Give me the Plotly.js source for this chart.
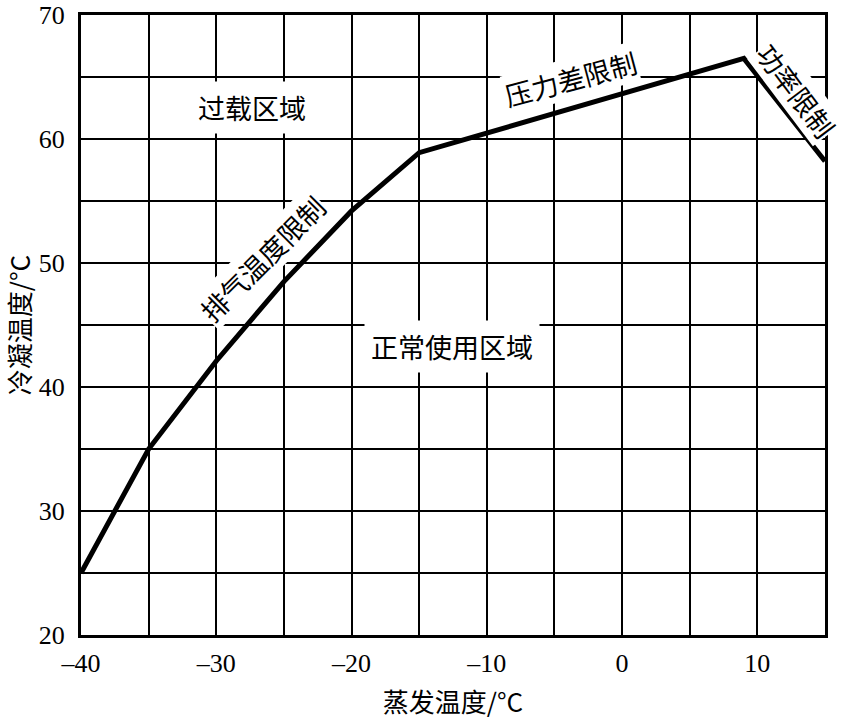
<!DOCTYPE html>
<html>
<head>
<meta charset="utf-8">
<script src="https://cdn.plot.ly/plotly-3.0.1.min.js"></script>
<style>
html,body{margin:0;padding:0;background:#fff;}
#chart{width:845px;height:721px;}
</style>
</head>
<body>
<div id="chart"></div>
<script>
// Boundary of the operating envelope (evaporating temp vs condensing temp)
const evapTemp = [-40, -35, -30, -25, -20, -15, 9, 15];
const condTemp = [25, 35, 42.1, 48.5, 54.2, 58.9, 66.5, 58.2];

const xTicks = [-40, -30, -20, -10, 0, 10];
const yTicks = [20, 30, 40, 50, 60, 70];

const labelText = ['过载区域', '正常使用区域', '排气温度限制', '压力差限制', '功率限制'];
const labelX = [-27.36, -12.54, -26.6, -3.8, 12.85];
const labelY = [62.58, 43.3, 50.4, 64.9, 63.9];
const labelAngle = [0, 0, -45, -15, 53];
const labelPad = [6, 6, 0, 0, 0];

const cjk = 'Noto Sans CJK SC, sans-serif';
const serif = 'Liberation Serif, Noto Sans CJK SC, serif';

const annotations = labelText.map((t, i) => ({
  x: labelX[i], y: labelY[i], xref: 'x', yref: 'y',
  text: t, showarrow: false, textangle: labelAngle[i],
  xanchor: 'center', yanchor: 'middle',
  bgcolor: '#ffffff', borderpad: labelPad[i],
  font: {family: cjk, size: 27, color: '#000'}
}));

const trace = {
  x: evapTemp, y: condTemp, type: 'scatter', mode: 'lines',
  line: {color: '#000', width: 5}, hoverinfo: 'skip', showlegend: false
};

const layout = {
  width: 845, height: 721,
  margin: {l: 81, r: 20, t: 15, b: 86},
  paper_bgcolor: '#fff', plot_bgcolor: '#fff',
  showlegend: false,
  xaxis: {
    range: [-40, 15], tickvals: xTicks, ticktext: xTicks.map(v => v < 0 ? '–' + Math.abs(v) : String(v)),
    showgrid: true, gridcolor: '#000', gridwidth: 2, zeroline: false,
    showline: true, linecolor: '#000', linewidth: 3, mirror: true, ticks: '',
    ticklabelstandoff: 3, ticklabeloverflow: 'allow',
    tickfont: {family: serif, size: 26, color: '#000'},
    title: {text: '蒸发温度/°C', font: {family: cjk, size: 26, color: '#000'}, standoff: 17}
  },
  yaxis: {
    range: [20, 70], tickvals: yTicks, showgrid: true, gridcolor: '#000', gridwidth: 2, zeroline: false,
    showline: true, linecolor: '#000', linewidth: 3, mirror: true, ticks: '',
    ticklabelstandoff: 8, ticklabeloverflow: 'allow',
    tickfont: {family: serif, size: 26, color: '#000'},
    title: {text: '冷凝温度/°C', font: {family: cjk, size: 26, color: '#000'}, standoff: 8}
  },
  annotations: annotations
};

// grid at every 5 units
layout.xaxis.minor = {dtick: 5, tick0: -40, showgrid: true, gridcolor: '#000', gridwidth: 2, ticks: ''};
layout.yaxis.minor = {dtick: 5, tick0: 20, showgrid: true, gridcolor: '#000', gridwidth: 2, ticks: ''};

Plotly.newPlot('chart', [trace], layout, {staticPlot: true, displayModeBar: false});
</script>
</body>
</html>
